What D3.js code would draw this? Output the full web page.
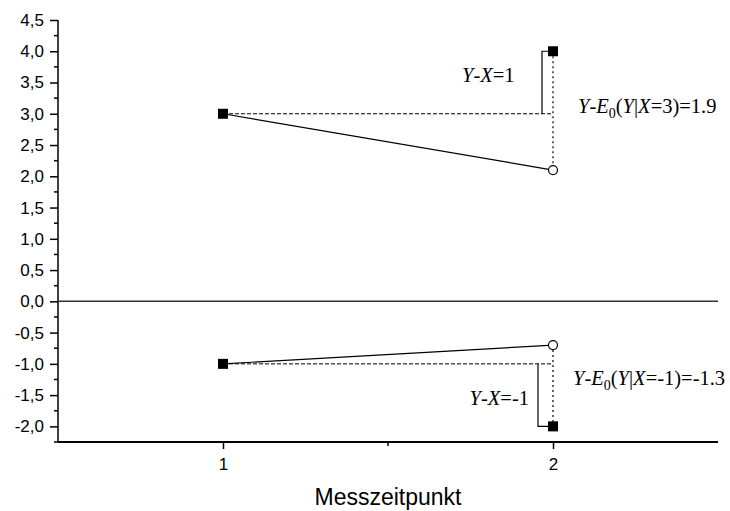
<!DOCTYPE html>
<html>
<head>
<meta charset="utf-8">
<script src="https://cdn.jsdelivr.net/npm/d3@7"></script>
<style>
  body { margin: 0; background: #fff; }
  svg { display: block; }
</style>
</head>
<body>
<svg width="730" height="511"></svg>
<script>
// data
var xDomain = [0.5, 2.5],
    yDomain = [-2.25, 4.5],
    xTicks = [1, 2],
    xMinor = [1.5],
    yTicks = [-2, -1.5, -1, -0.5, 0, 0.5, 1, 1.5, 2, 2.5, 3, 3.5, 4, 4.5],
    yMinor = d3.range(-2.25, 4.5, 0.5)

var observed = [[1, 3], [2, 4], [1, -1], [2, -2]]      // filled squares
var expected = [[2, 2.1], [2, -0.7]]                    // open circles
var regression = [[[1, 3], [2, 2.1]], [[1, -1], [2, -0.7]]]
var baseline = [[[1, 3], [2, 3]], [[1, -1], [2, -1]]]   // dashed
var residual = [[[2, 4], [2, 2.1]], [[2, -0.7], [2, -2]]] // dotted
var brackets = [[3, 4], [-1, -2]]

var sans = "'Liberation Sans', Arial, sans-serif",
    serif = "'Liberation Serif', 'Times New Roman', serif"

var svg = d3.select("svg")
var x = d3.scaleLinear().domain(xDomain).range([58, 718])
var y = d3.scaleLinear().domain(yDomain).range([442, 20])

var fmt = d => d3.format(".1f")(d).replace(".", ",").replace("−", "-")

// y axis
var yAxis = svg.append("g").attr("transform", "translate(58,0)")
    .call(d3.axisLeft(y).tickValues(yTicks).tickFormat(fmt).tickSize(8).tickPadding(6))
yAxis.select(".domain").attr("d", "M0," + y(4.5) + "V" + y(-2.25)).attr("stroke-width", 1.5)
yAxis.selectAll(".tick line").attr("stroke-width", 1.5)
yAxis.selectAll(".tick text").attr("font-family", sans).attr("font-size", 17)
yAxis.selectAll(".minor").data(yMinor).enter().append("line")
    .attr("x1", -4).attr("x2", 0)
    .attr("y1", d => y(d)).attr("y2", d => y(d))
    .attr("stroke", "#000").attr("stroke-width", 1.5)

// x axis
var xAxis = svg.append("g").attr("transform", "translate(0," + y(-2.25) + ")")
    .call(d3.axisBottom(x).tickValues(xTicks).tickFormat(d3.format("d")).tickSize(7).tickPadding(9))
xAxis.select(".domain").attr("d", "M" + x(0.5) + ",0H" + x(2.5)).attr("stroke-width", 2)
xAxis.selectAll(".tick line").attr("stroke-width", 1.5)
xAxis.selectAll(".tick text").attr("font-family", sans).attr("font-size", 17)
xAxis.selectAll(".minor").data(xMinor).enter().append("line")
    .attr("x1", d => x(d)).attr("x2", d => x(d))
    .attr("y1", 0).attr("y2", 4)
    .attr("stroke", "#000").attr("stroke-width", 1.5)

svg.append("text")
    .attr("x", x(1.5)).attr("y", 505)
    .attr("text-anchor", "middle")
    .attr("font-family", sans)
    .attr("font-size", 23)
    .text("Messzeitpunkt")

// zero line
svg.append("line")
    .attr("x1", x(0.5)).attr("x2", x(2.5))
    .attr("y1", y(0)).attr("y2", y(0))
    .attr("stroke", "#333").attr("stroke-width", 1.5)

var line = d3.line().x(d => x(d[0])).y(d => y(d[1]))

svg.selectAll(".dashed").data(baseline).enter().append("path")
    .attr("d", line).attr("fill", "none")
    .attr("stroke", "#000").attr("stroke-width", 1).attr("stroke-dasharray", "4,2")

svg.selectAll(".dotted").data(residual).enter().append("path")
    .attr("d", line).attr("fill", "none")
    .attr("stroke", "#000").attr("stroke-width", 1.2).attr("stroke-dasharray", "2,3")

svg.selectAll(".reg").data(regression).enter().append("path")
    .attr("d", line).attr("fill", "none")
    .attr("stroke", "#000").attr("stroke-width", 1.2)

// brackets for Y-X
var bx = [x(2) - 11, x(2) - 15]
svg.selectAll(".bracket").data(brackets).enter().append("path")
    .attr("d", (d, i) => "M" + bx[i] + "," + y(d[0]) + "V" + y(d[1]) + "H" + x(2))
    .attr("fill", "none").attr("stroke", "#000").attr("stroke-width", 1.2)

svg.selectAll(".sq").data(observed).enter().append("rect")
    .attr("x", d => x(d[0]) - 5).attr("y", d => y(d[1]) - 5)
    .attr("width", 10).attr("height", 10).attr("fill", "#000")

svg.selectAll(".circ").data(expected).enter().append("circle")
    .attr("cx", d => x(d[0])).attr("cy", d => y(d[1])).attr("r", 4.5)
    .attr("fill", "#fff").attr("stroke", "#000").attr("stroke-width", 1.2)

// math labels
function mathLabel(parts, xx, yy, anchor) {
    var t = svg.append("text")
        .attr("font-family", serif).attr("font-size", 20.5)
        .attr("x", xx).attr("y", yy).attr("text-anchor", anchor || "start")
    parts.forEach(p => {
        var s = t.append("tspan").text(p[0])
        if (p[1] == "i") s.attr("font-style", "italic")
        if (p[1] == "sub") s.attr("dy", 5).attr("font-size", 14)
        if (p[1] == "up") s.attr("dy", -5)
    })
}

mathLabel([["Y", "i"], ["-"], ["X", "i"], ["=1"]], 462, 82)
mathLabel([["Y", "i"], ["-"], ["X", "i"], ["=-1"]], 529, 405, "end")
mathLabel([["Y", "i"], ["-"], ["E", "i"], ["0", "sub"], ["(", "up"], ["Y", "i"], ["|"], ["X", "i"], ["=3)=1.9"]], 578, 113)
mathLabel([["Y", "i"], ["-"], ["E", "i"], ["0", "sub"], ["(", "up"], ["Y", "i"], ["|"], ["X", "i"], ["=-1)=-1.3"]], 573, 385)
</script>
</body>
</html>
